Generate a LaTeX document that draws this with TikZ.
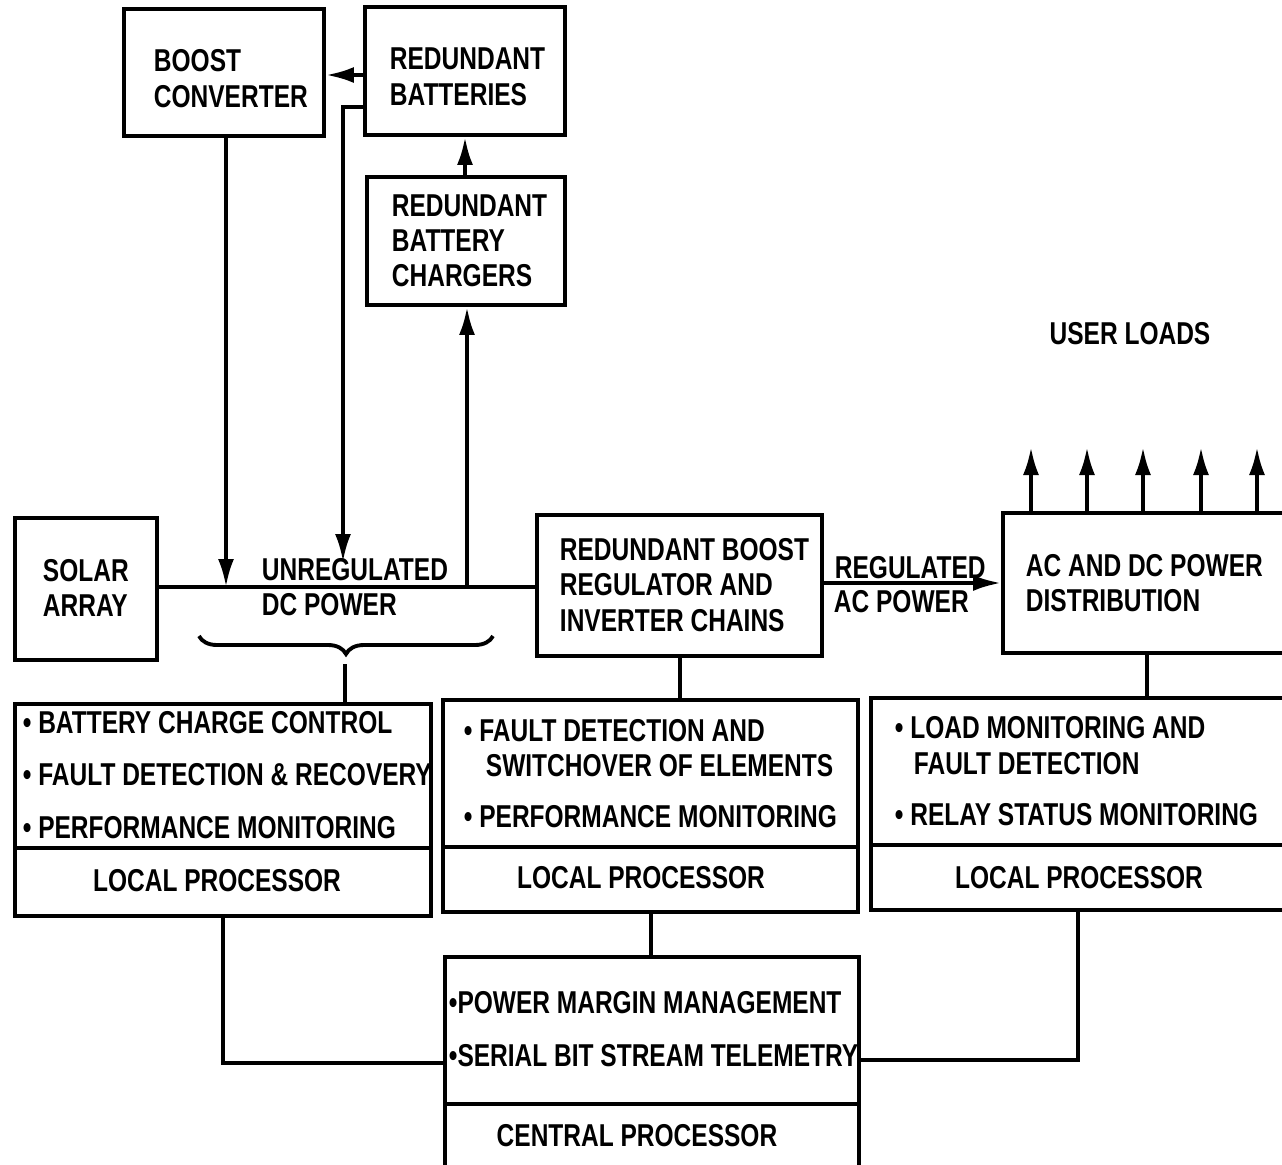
\documentclass[tikz,border=0pt]{standalone}
\usepackage{fontspec}
\setmainfont{Liberation Sans}[FakeStretch=0.775]
\usetikzlibrary{fit,arrows.meta,decorations.pathreplacing,calc}
\begin{document}
\begin{tikzpicture}[x=0.02cm,y=-0.02cm, line width=2.2pt,
  box/.style={draw, inner sep=0pt},
  txt/.style={anchor=west, inner sep=0pt, font=\fontsize{18}{20}\selectfont\bfseries},
  ctxt/.style={anchor=center, inner sep=0pt, font=\fontsize{18}{20}\selectfont\bfseries},
  arr/.style={-{Latex[length=0.56cm,width=0.32cm]}}]
\useasboundingbox (0,0) rectangle (1282,1164);
% boxes
\node[box, fit={(124,9) (324,136)}] (boost) {};
\node[box, fit={(365,7) (565,135)}] (batt) {};
\node[box, fit={(367,177) (565,305)}] (chg) {};
\node[box, fit={(15,518) (157,660)}] (solar) {};
\node[box, fit={(537,515) (822,656)}] (reg) {};
\node[box, fit={(1003,513) (1300,653)}] (dist) {};
\node[box, fit={(15,704) (431,848)}] (lfun) {};
\node[box, fit={(15,848) (431,916)}] (lproc) {};
\node[box, fit={(443,700) (858,847)}] (mfun) {};
\node[box, fit={(443,847) (858,912)}] (mproc) {};
\node[box, fit={(871,698) (1300,845)}] (rfun) {};
\node[box, fit={(871,845) (1300,910)}] (rproc) {};
\node[box, fit={(445,957) (859,1104)}] (cfun) {};
\node[box, fit={(445,1104) (859,1180)}] (cproc) {};
% texts
\node[txt] (t1) at (152,61) {BOOST};
\node[txt] (t2) at (152,97) {CONVERTER};
\node[txt] (t3) at (388,59) {REDUNDANT};
\node[txt] (t4) at (388,95) {BATTERIES};
\node[txt] (t5) at (390,206) {REDUNDANT};
\node[txt] (t6) at (390,241) {BATTERY};
\node[txt] (t7) at (390,276) {CHARGERS};
\node[txt] (t8) at (41,571) {SOLAR};
\node[txt] (t9) at (41,606) {ARRAY};
\node[txt] (t10) at (260,570) {UNREGULATED};
\node[txt] (t11) at (260,605) {DC POWER};
\node[txt] (t12) at (558,550) {REDUNDANT BOOST};
\node[txt] (t13) at (558,585) {REGULATOR AND};
\node[txt] (t14) at (558,621) {INVERTER CHAINS};
\node[txt] (t15) at (833,568) {REGULATED};
\node[txt] (t16) at (832,602) {AC POWER};
\node[txt] (t17) at (1024,566) {AC AND DC POWER};
\node[txt] (t18) at (1024,601) {DISTRIBUTION};
\node[ctxt] (t19) at (1130,334) {USER LOADS};
\node[txt] (t20) at (21,723) {\textbullet\ BATTERY CHARGE CONTROL};
\node[txt] (t21) at (21,775) {\textbullet\ FAULT DETECTION \& RECOVERY};
\node[txt] (t22) at (21,828) {\textbullet\ PERFORMANCE MONITORING};
\node[ctxt] (t23) at (217,881) {LOCAL PROCESSOR};
\node[txt] (t24) at (462,731) {\textbullet\ FAULT DETECTION AND};
\node[txt] (t25) at (484,766) {SWITCHOVER OF ELEMENTS};
\node[txt] (t26) at (462,817) {\textbullet\ PERFORMANCE MONITORING};
\node[ctxt] (t27) at (641,878) {LOCAL PROCESSOR};
\node[txt] (t28) at (893,728) {\textbullet\ LOAD MONITORING AND};
\node[txt] (t29) at (912,764) {FAULT DETECTION};
\node[txt] (t30) at (893,815) {\textbullet\ RELAY STATUS MONITORING};
\node[ctxt] (t31) at (1079,878) {LOCAL PROCESSOR};
\node[txt] (t32) at (447,1003) {\textbullet POWER MARGIN MANAGEMENT};
\node[txt] (t33) at (447,1056) {\textbullet SERIAL BIT STREAM TELEMETRY};
\node[ctxt] (t34) at (637,1136) {CENTRAL PROCESSOR};
% connectors
\coordinate (bus) at (0,587);
\draw (solar.east |- bus) -- (reg.west |- bus);
\draw[arr] (226,0 |- boost.south) -- (226,0 |- bus);
\draw[arr] (batt.west |- 0,75) -- (boost.east |- 0,75);
\draw[arr] (batt.west |- 0,107) -- (343,107) -- (343,562);
\draw[arr] (467,0 |- bus) -- (467,0 |- chg.south);
\draw[arr] (465,0 |- chg.north) -- (465,0 |- batt.south);
\draw[arr] (reg.east |- 0,583) -- (dist.west |- 0,583);
\foreach \xx in {1031,1087,1143,1201,1257}
  \draw[arr] (\xx,0 |- dist.north) -- (\xx,447);
\draw[decorate,decoration={brace,amplitude=0.36cm}] (493,636) -- (199,636);
\coordinate (btip) at (345,664);
\draw (btip) -- (btip |- lfun.north);
\draw (680,0 |- reg.south) -- (680,0 |- mfun.north);
\draw (1147,0 |- dist.south) -- (1147,0 |- rfun.north);
\draw (651,0 |- mproc.south) -- (651,0 |- cfun.north);
\draw (223,0 |- lproc.south) -- (223,1063) -- (cfun.west |- 0,1063);
\draw (1078,0 |- rproc.south) -- (1078,1060) -- (cfun.east |- 0,1060);
\end{tikzpicture}
\end{document}
